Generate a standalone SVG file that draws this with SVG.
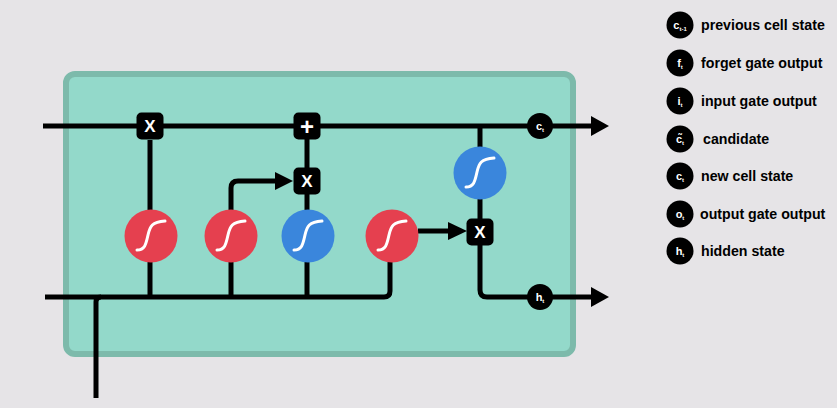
<svg xmlns="http://www.w3.org/2000/svg" width="837" height="408" viewBox="0 0 837 408">
<defs>
<style>
.ln{fill:none;stroke:#000;stroke-width:5;stroke-linejoin:round}
.gate{fill:#000}
.gt{fill:#fff;font-family:"Liberation Sans",Arial,sans-serif;font-weight:bold;font-size:17px;text-anchor:middle}
.plus{font-size:24px}
.red{fill:#e5404f}
.blue{fill:#3a86dc}
.sig{fill:none;stroke:#fff;stroke-width:3;stroke-linecap:round}
.dot{fill:#000}
.lab{fill:#fff;font-family:"Liberation Sans",Arial,sans-serif;font-weight:bold;font-size:11px;text-anchor:middle}
.sub{font-size:6px}
.leg{fill:#000;font-family:"Liberation Sans",Arial,sans-serif;font-weight:bold;font-size:14.2px}
</style>
<path id="s" class="sig" d="M-14,14 C-6,14 -5,8 -3,-1 C-1,-10 1,-14 14,-15"/>
</defs>
<rect width="837" height="408" fill="#e6e4e7"/>
<rect id="cell" x="66" y="74" width="507" height="280" rx="9" fill="#93d9ca" stroke="#7dbaab" stroke-width="6"/>
<g id="connectors">
<path class="ln" d="M43,126 H593"/>
<polygon points="591,116 609,126 591,136"/>
<path class="ln" d="M45,297 H384 Q390,297 390,291 V262"/>
<path class="ln" d="M96,398 V302 Q96,297 101,297"/>
<path class="ln" d="M150,297 V140"/>
<path class="ln" d="M231,297 V262"/>
<path class="ln" d="M231,210 V188 Q231,181 238,181 H277"/>
<polygon points="275,172 293,181 275,190"/>
<path class="ln" d="M307,297 V126"/>
<path class="ln" d="M418,231 H450"/>
<polygon points="448,222 467,231 448,240"/>
<path class="ln" d="M480,126 V245"/>
<path class="ln" d="M480,245 V290 Q480,297 487,297 H593"/>
<polygon points="591,287 609,297 591,307"/>
</g>
<g id="forget_mult"><rect class="gate" x="136.5" y="112.5" width="27" height="27" rx="5"/><text class="gt" x="150" y="132">X</text></g>
<g id="add"><rect class="gate" x="293.5" y="112.5" width="27" height="27" rx="5"/><text class="gt plus" x="307" y="134.5">+</text></g>
<g id="input_mult"><rect class="gate" x="293.5" y="167.5" width="27" height="27" rx="5"/><text class="gt" x="307" y="187">X</text></g>
<g id="output_mult"><rect class="gate" x="466.5" y="218.5" width="27" height="27" rx="5"/><text class="gt" x="480" y="238">X</text></g>
<g id="forget_sig"><circle class="red" cx="151" cy="236" r="26.5"/><use href="#s" x="151" y="236"/></g>
<g id="input_sig"><circle class="red" cx="231" cy="236" r="26.5"/><use href="#s" x="231" y="236"/></g>
<g id="cand_tanh"><circle class="blue" cx="308" cy="236" r="26.5"/><use href="#s" x="308" y="236"/></g>
<g id="output_sig"><circle class="red" cx="392" cy="236" r="26.5"/><use href="#s" x="392" y="236"/></g>
<g id="cell_tanh"><circle class="blue" cx="480" cy="173" r="26.5"/><use href="#s" x="480" y="173"/></g>
<g id="ct"><circle class="dot" cx="540" cy="126" r="13"/><text class="lab" x="540" y="130">c<tspan class="sub" dy="2">t</tspan></text></g>
<g id="ht"><circle class="dot" cx="540" cy="297" r="13"/><text class="lab" x="540" y="301">h<tspan class="sub" dy="2">t</tspan></text></g>
<g id="legend">
<g id="leg1"><circle class="dot" cx="680" cy="25" r="13.5"/><text class="lab" x="680" y="29">c<tspan class="sub" dy="2">t-1</tspan></text><text class="leg" x="701" y="30">previous cell state</text></g>
<g id="leg2"><circle class="dot" cx="680" cy="63" r="13.5"/><text class="lab" x="680" y="67">f<tspan class="sub" dy="2">t</tspan></text><text class="leg" x="701" y="68">forget gate output</text></g>
<g id="leg3"><circle class="dot" cx="680" cy="101" r="13.5"/><text class="lab" x="680" y="105">i<tspan class="sub" dy="2">t</tspan></text><text class="leg" x="701" y="106">input gate output</text></g>
<g id="leg4"><circle class="dot" cx="680" cy="139" r="13.5"/><text class="lab" x="680" y="143">c̃<tspan class="sub" dy="2">t</tspan></text><text class="leg" x="703" y="144">candidate</text></g>
<g id="leg5"><circle class="dot" cx="680" cy="176" r="13.5"/><text class="lab" x="680" y="180">c<tspan class="sub" dy="2">t</tspan></text><text class="leg" x="701" y="181">new cell state</text></g>
<g id="leg6"><circle class="dot" cx="680" cy="214" r="13.5"/><text class="lab" x="680" y="218">o<tspan class="sub" dy="2">t</tspan></text><text class="leg" x="700" y="219">output gate output</text></g>
<g id="leg7"><circle class="dot" cx="680" cy="251" r="13.5"/><text class="lab" x="680" y="255">h<tspan class="sub" dy="2">t</tspan></text><text class="leg" x="701" y="256">hidden state</text></g>
</g>
</svg>
